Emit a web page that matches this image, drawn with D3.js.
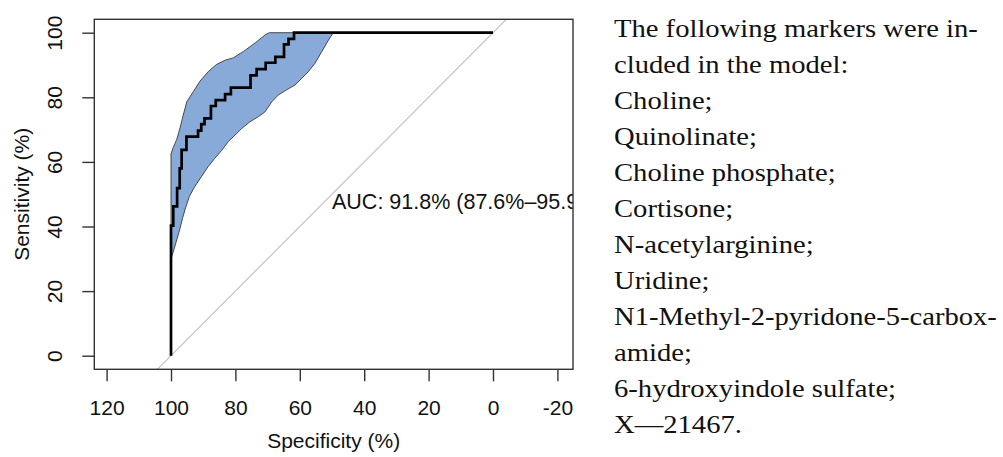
<!DOCTYPE html>
<html>
<head>
<meta charset="utf-8">
<script src="https://cdn.jsdelivr.net/npm/d3@7"></script>
<style>
  html, body { margin: 0; padding: 0; background: #fff; }
  svg { display: block; }
</style>
</head>
<body>
<svg id="chart" width="1003" height="457"></svg>
<script>
// ---- Data ----
const xTicks = [120, 100, 80, 60, 40, 20, 0, -20];
const yTicks = [0, 20, 40, 60, 80, 100];

// ROC staircase corner points (specificity %, sensitivity %)
const rocSpec = [100, 100, 99.3, 98.1, 97.3, 96.7, 95.2, 91.6, 90.6, 89.6, 87.6, 86.1, 83.2, 81.4, 75.3, 73.4, 70.6, 67.6, 64.9, 63.5, 61.8, 0];
const rocSens = [0, 40.3, 46.2, 51.9, 58.0, 63.7, 67.8, 69.7, 71.7, 73.5, 77.3, 79.1, 81.0, 83.0, 86.8, 88.7, 90.7, 92.5, 96.4, 98.1, 100, 100];

// Confidence band: upper (left) boundary, bottom to top
const ciUpperSpec = [100, 100, 99.3, 98.2, 97.2, 96.2, 95.1, 93.1, 91.0, 88.4, 85.8, 83.2, 80.7, 77.5, 73.9, 70.8, 69.5];
const ciUpperSens = [30.2, 62.5, 64.5, 67.0, 70.5, 74.5, 78.6, 81.7, 85.0, 88.0, 90.2, 91.5, 92.2, 94.2, 96.8, 99.3, 100];
// Confidence band: lower (right) boundary, top to bottom
const ciLowerSpec = [49.6, 51.1, 53.2, 55.3, 57.4, 59.4, 61.5, 64.1, 66.7, 68.7, 70.8, 72.9, 75.5, 78.0, 80.1, 82.2, 84.3, 86.5, 88.5, 90.5, 92.6, 94.3, 95.5, 96.4, 97.3, 98.2, 99.1, 99.9];
const ciLowerSens = [100, 97.7, 94.1, 90.5, 87.9, 85.9, 83.8, 82.3, 80.7, 78.6, 75.5, 74.0, 72.4, 70.4, 68.3, 66.3, 63.5, 61.0, 58.5, 55.5, 52.4, 49.3, 45.7, 42.6, 39.0, 35.9, 32.8, 30.2];

const aucLabel = "AUC: 91.8% (87.6%\u201395.9%)";
const xTitle = "Specificity (%)";
const yTitle = "Sensitivity (%)";

const noteLines = [
  "The following markers were in-",
  "cluded in the model:",
  "Choline;",
  "Quinolinate;",
  "Choline phosphate;",
  "Cortisone;",
  "N-acetylarginine;",
  "Uridine;",
  "N1-Methyl-2-pyridone-5-carbox-",
  "amide;",
  "6-hydroxyindole sulfate;",
  "X\u201421467."
];

// ---- Layout ----
const box = { left: 94.3, right: 573, top: 19.3, bottom: 369.3 };
const sansFont = "'Liberation Sans', Arial, sans-serif";
const serifFont = "'Liberation Serif', 'Times New Roman', serif";

const svg = d3.select("#chart");

const x = d3.scaleLinear().domain([100, 0]).range([171, 493]);
const y = d3.scaleLinear().domain([0, 100]).range([355.7, 32.7]);

svg.append("defs").append("clipPath").attr("id", "plotclip")
  .append("rect")
  .attr("x", box.left).attr("y", box.top)
  .attr("width", box.right - box.left).attr("height", box.bottom - box.top);

const plot = svg.append("g").attr("clip-path", "url(#plotclip)");

// Diagonal reference line (sens = 100 - spec), extended across the box
plot.append("line")
  .attr("x1", x(110)).attr("y1", y(-10))
  .attr("x2", x(-10)).attr("y2", y(110))
  .attr("stroke", "#c4c4c4").attr("stroke-width", 1.2);

// CI band polygon
const bandPts = ciUpperSpec.map((s, i) => [s, ciUpperSens[i]])
  .concat(ciLowerSpec.map((s, i) => [s, ciLowerSens[i]]));
plot.append("path")
  .attr("d", d3.line().x(d => x(d[0])).y(d => y(d[1])).curve(d3.curveLinearClosed)(bandPts))
  .attr("fill", "#87aad9")
  .attr("stroke", "#3a3a3a")
  .attr("stroke-width", 0.9);

// ROC curve
const rocPts = rocSpec.map((s, i) => [s, rocSens[i]]);
plot.append("path")
  .attr("d", d3.line().x(d => x(d[0])).y(d => y(d[1])).curve(d3.curveStepAfter)(rocPts))
  .attr("fill", "none")
  .attr("stroke", "#000")
  .attr("stroke-width", 2.7)
  .attr("stroke-linejoin", "miter");

// AUC text (top-left anchored at (50, 50)), clipped to the box
plot.append("text")
  .attr("x", x(50)).attr("y", y(50) + 15)
  .attr("font-family", sansFont).attr("font-size", 21.5)
  .attr("fill", "#111")
  .text(aucLabel);

// Box
svg.append("rect")
  .attr("x", box.left).attr("y", box.top)
  .attr("width", box.right - box.left).attr("height", box.bottom - box.top)
  .attr("fill", "none").attr("stroke", "#333").attr("stroke-width", 1.4);

const fmt = d => String(d);

// X axis
const xAxis = d3.axisBottom(x).tickValues(xTicks).tickSize(12).tickPadding(0).tickFormat(fmt);
const gx = svg.append("g").attr("transform", `translate(0,${box.bottom})`).call(xAxis);
gx.select(".domain").remove();
gx.selectAll(".tick line").attr("stroke", "#333").attr("stroke-width", 1.4);
gx.selectAll(".tick text")
  .attr("y", 46).attr("dy", null)
  .attr("font-family", sansFont).attr("font-size", 21).attr("fill", "#111");

// Y axis
const yAxis = d3.axisLeft(y).tickValues(yTicks).tickSize(12).tickFormat(fmt);
const gy = svg.append("g").attr("transform", `translate(${box.left},0)`).call(yAxis);
gy.select(".domain").remove();
gy.selectAll(".tick line").attr("stroke", "#333").attr("stroke-width", 1.4);
gy.selectAll(".tick text")
  .attr("x", null).attr("dy", null)
  .attr("text-anchor", "middle")
  .attr("transform", `translate(${62 - box.left},0) rotate(-90)`)
  .attr("font-family", sansFont).attr("font-size", 21).attr("fill", "#111");

// Axis titles
svg.append("text")
  .attr("x", (box.left + box.right) / 2).attr("y", 448)
  .attr("text-anchor", "middle")
  .attr("font-family", sansFont).attr("font-size", 21).attr("fill", "#111")
  .text(xTitle);
svg.append("text")
  .attr("transform", `translate(29,${(box.top + box.bottom) / 2}) rotate(-90)`)
  .attr("text-anchor", "middle")
  .attr("font-family", sansFont).attr("font-size", 21).attr("fill", "#111")
  .text(yTitle);

// Right-hand note text
const noteG = svg.append("g").attr("transform", "translate(614,0)");
const noteTexts = noteG.selectAll("text").data(noteLines).join("text")
  .attr("x", 0)
  .attr("y", (d, i) => 37.3 + 36 * i)
  .attr("font-family", serifFont).attr("font-size", 25).attr("fill", "#111")
  .text(d => d);
// stretch horizontally so the lines approach the reference widths while staying inside the page
const nodes = noteTexts.nodes();
const w0 = nodes[0].getComputedTextLength();
const w8 = nodes[8].getComputedTextLength();
const sx = Math.min(373 / w0, 383 / w8);
noteG.attr("transform", `translate(614,0) scale(${sx},1)`);
</script>
</body>
</html>
